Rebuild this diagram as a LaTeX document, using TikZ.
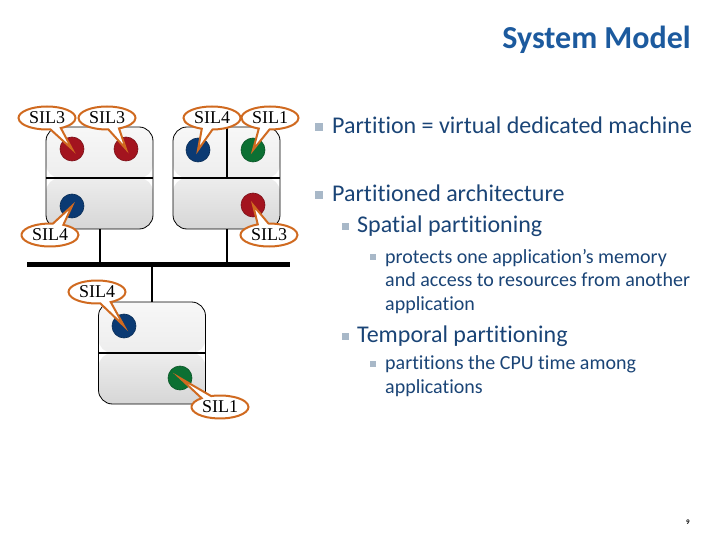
\documentclass[tikz,border=0pt]{standalone}
\usepackage{fontspec}
\setmainfont{Carlito}[Ligatures=NoCommon]
\newfontfamily\silfont{Liberation Serif}
\usetikzlibrary{shapes.callouts,calc}
\definecolor{ttl}{HTML}{1C5A9E}
\definecolor{txt}{HTML}{1A4476}
\definecolor{bul}{HTML}{A8B8C8}
\definecolor{cred}{HTML}{A3141F}
\definecolor{cblue}{HTML}{0B3A73}
\definecolor{cgreen}{HTML}{0C7033}
\definecolor{corange}{HTML}{D06A20}
\begin{document}
\begin{tikzpicture}[x=1pt,y=-1pt,
  machine/.style={draw=black, line width=0.8pt, rounded corners=14pt,
    minimum width=107pt, minimum height=102pt, inner sep=0pt,
    path picture={
      \shade[top color=gray!6, bottom color=gray!22] (path picture bounding box.north west) rectangle (path picture bounding box.east);
      \shade[top color=gray!14, bottom color=gray!32] (path picture bounding box.west) rectangle (path picture bounding box.south east);
    }},
  divider/.style={line width=2pt},
  stem/.style={line width=2pt},
  app/.style={circle, minimum size=24pt, inner sep=0pt, draw=#1!75!black, line width=0.6pt, fill=#1},
  sil/.style={ellipse callout, draw=corange, line width=2pt, fill=white,
    minimum width=57pt, minimum height=23pt, inner sep=0pt, callout pointer arc=22,
    font=\silfont\fontsize{18}{18}\selectfont},
  lone/.style={anchor=base west, inner sep=0pt, text=txt, font=\fontsize{24}{24}\selectfont},
  ltwo/.style={anchor=base west, inner sep=0pt, text=txt, font=\fontsize{24}{24}\selectfont},
  lthree/.style={anchor=base west, inner sep=0pt, text=txt, font=\fontsize{20}{23.5}\selectfont, align=left},
  bullet/.style={fill=bul, inner sep=0pt, minimum size=#1}
]
\useasboundingbox (0,0) rectangle (720,540);

% title
\node[anchor=base east, inner sep=0pt, text=ttl, font=\fontsize{32}{32}\selectfont\bfseries] (title) at (691,49) {System Model};

% bus
\coordinate (busL) at (27,264);
\coordinate (busR) at (290,264);
\draw[line width=5pt] (busL) -- (busR);

% machines
\node[machine] (m1) at (99.5,178) {};
\node[machine] (m2) at (226.5,178) {};
\node[machine] (m3) at (152,353) {};
\draw[divider] (m1.west) -- (m1.east);
\draw[divider] (m2.west) -- (m2.east);
\draw[divider] (m2.north) -- (m2.center);
\draw[divider] (m3.west) -- (m3.east);
\draw[stem] (m1.south) -- (m1.south |- busL);
\draw[stem] (m2.south) -- (m2.south |- busL);
\draw[stem] (m3.north) -- (m3.north |- busL);

% applications
\node[app=cred] (a1) at (72,149) {};
\node[app=cred] (a2) at (126,149) {};
\node[app=cblue] (a3) at (72,206) {};
\node[app=cblue] (a4) at (198,150) {};
\node[app=cgreen] (a5) at (253,150) {};
\node[app=cred] (a6) at (253,205) {};
\node[app=cblue] (a7) at (124,326) {};
\node[app=cgreen] (a8) at (180,378) {};

% callouts
\node[sil, callout absolute pointer={(a1.center)}] (c1) at (47,118) {SIL3};
\node[sil, callout absolute pointer={(a2.center)}] (c2) at (107,118) {SIL3};
\node[sil, callout absolute pointer={(a3.center)}] (c3) at (50,235) {SIL4};
\node[sil, callout absolute pointer={(a4.center)}] (c4) at (212,118) {SIL4};
\node[sil, callout absolute pointer={(a5.center)}] (c5) at (270,118) {SIL1};
\node[sil, callout absolute pointer={(a6.center)}] (c6) at (269,235) {SIL3};
\node[sil, callout absolute pointer={(a7.center)}] (c7) at (97,292) {SIL4};
\node[sil, callout absolute pointer={(a8.center)}] (c8) at (220,407) {SIL1};

% bullets text
\node[bullet=8pt] (b1) at (319,127) {};
\node[lone] (t1) at (332,134) {Partition = virtual dedicated machine};
\node[bullet=8pt] (b2) at (319,195) {};
\node[lone] (t2) at (332,202) {Partitioned architecture};
\node[bullet=7pt] (b3) at (345,227) {};
\node[ltwo] (t3) at (357,233) {Spatial partitioning};
\node[bullet=6pt] (b4) at (373,257) {};
\node[lthree] (t4) at (385,310) {protects one application’s memory\\and access to resources from another\\application};
\node[bullet=7pt] (b5) at (345,336) {};
\node[ltwo] (t5) at (357,342) {Temporal partitioning};
\node[bullet=6pt] (b6) at (373,364) {};
\node[lthree] (t6) at (385,393) {partitions the CPU time among\\applications};

% page number
\node[inner sep=0pt, font=\fontsize{7}{7}\selectfont\bfseries] (pg) at (688,522) {9};
\end{tikzpicture}
\end{document}
